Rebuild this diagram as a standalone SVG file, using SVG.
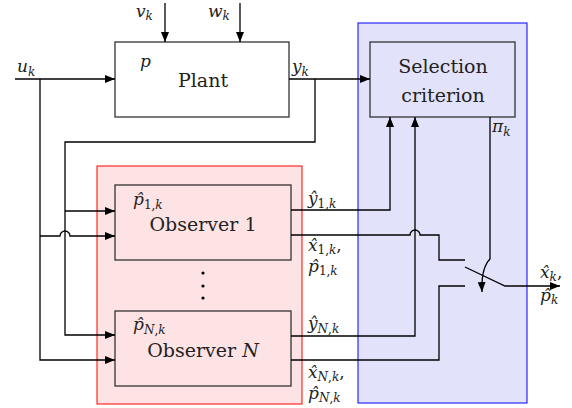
<svg xmlns="http://www.w3.org/2000/svg" width="572" height="408" viewBox="0 0 572 408">
<defs>
<marker id="arr" viewBox="0 0 10 8" refX="10" refY="4" markerWidth="10" markerHeight="8" markerUnits="userSpaceOnUse" orient="auto">
<path d="M0,0 L10,4 L0,8 Z" fill="#000"/>
</marker>
<style>
.box{fill:none;stroke:#333;stroke-width:1.3}
.ln{fill:none;stroke:#000;stroke-width:1.3}
text{font-family:"DejaVu Serif","Liberation Serif",serif;fill:#222}
.lbl{font-size:19px}
.m{font-style:italic;font-size:17px}
.s{font-size:12px}
.up{font-style:normal}
</style>
</defs>
<rect width="572" height="408" fill="#fff"/>
<g id="observer-bank">
<rect x="97" y="166" width="205" height="238" fill="#fde3e3" stroke="#f00" stroke-width="1"/>
<circle cx="203" cy="273" r="1.6" fill="#000"/>
<circle cx="203" cy="286" r="1.6" fill="#000"/>
<circle cx="203" cy="298" r="1.6" fill="#000"/>
</g>
<g id="selection-region">
<rect x="358" y="23" width="169" height="380" fill="#e2e2fb" stroke="#00f" stroke-width="1"/>
</g>
<g id="plant">
<rect class="box" x="115" y="42" width="174" height="75" fill="#fff"/>
<text class="m" x="140" y="67">p</text>
<text class="lbl" x="203" y="87" text-anchor="middle">Plant</text>
</g>
<g id="selection">
<rect class="box" x="370" y="42" width="145" height="75"/>
<text class="lbl" x="443" y="73" text-anchor="middle">Selection</text>
<text class="lbl" x="443" y="102" text-anchor="middle">criterion</text>
</g>
<g id="observer1">
<rect class="box" x="115" y="185" width="176" height="75"/>
<text class="m" x="133" y="205">p̂<tspan class="s up" dy="4">1,</tspan><tspan class="s">k</tspan></text>
<text class="lbl" x="203" y="231" text-anchor="middle">Observer 1</text>
</g>
<g id="observerN">
<rect class="box" x="115" y="311" width="176" height="75"/>
<text class="m" x="133" y="330">p̂<tspan class="s" dy="4">N</tspan><tspan class="s up">,</tspan><tspan class="s">k</tspan></text>
<text class="lbl" x="203" y="357" text-anchor="middle">Observer <tspan font-style="italic">N</tspan></text>
</g>
<g id="connectors">
<path class="ln" d="M165,3 V42" marker-end="url(#arr)"/>
<path class="ln" d="M240,3 V42" marker-end="url(#arr)"/>
<path class="ln" d="M15,79 H115" marker-end="url(#arr)"/>
<path class="ln" d="M40,79 V360 H115" marker-end="url(#arr)"/>
<path class="ln" d="M40,236 H60 A5,5 0 0 1 70,236 H115" marker-end="url(#arr)"/>
<path class="ln" d="M289,79 H370" marker-end="url(#arr)"/>
<path class="ln" d="M315,79 V142 H65 V335 H115" marker-end="url(#arr)"/>
<path class="ln" d="M65,211 H115" marker-end="url(#arr)"/>
<path class="ln" d="M291,210 H390 V117" marker-end="url(#arr)"/>
<path class="ln" d="M291,235 H410 A5,5 0 0 1 420,235 H439 V260 H465"/>
<path class="ln" d="M291,336 H415 V117" marker-end="url(#arr)"/>
<path class="ln" d="M291,360 H439 V286 H465"/>
<path class="ln" d="M490,117 V259 Q481,268 482,292" marker-end="url(#arr)"/>
</g>
<g id="switch">
<path class="ln" d="M465,267 L505,286 H560" marker-end="url(#arr)"/>
</g>
<g id="labels">
<text class="m" x="17" y="72">u<tspan class="s" dy="4">k</tspan></text>
<text class="m" x="136" y="17">v<tspan class="s" dy="3">k</tspan></text>
<text class="m" x="208" y="17">w<tspan class="s" dy="3">k</tspan></text>
<text class="m" x="292" y="72">y<tspan class="s" dy="4">k</tspan></text>
<text class="m" x="492" y="132">π<tspan class="s" dy="4">k</tspan></text>
<text class="m" x="308" y="204">ŷ<tspan class="s up" dy="4">1,</tspan><tspan class="s">k</tspan></text>
<text class="m" x="308" y="251">x̂<tspan class="s up" dy="3">1,</tspan><tspan class="s">k</tspan><tspan class="up" dy="-3">,</tspan></text>
<text class="m" x="308" y="272">p̂<tspan class="s up" dy="3">1,</tspan><tspan class="s">k</tspan></text>
<text class="m" x="308" y="329">ŷ<tspan class="s" dy="4">N</tspan><tspan class="s up">,</tspan><tspan class="s">k</tspan></text>
<text class="m" x="308" y="378">x̂<tspan class="s" dy="3">N</tspan><tspan class="s up">,</tspan><tspan class="s">k</tspan><tspan class="up" dy="-3">,</tspan></text>
<text class="m" x="308" y="399">p̂<tspan class="s" dy="3">N</tspan><tspan class="s up">,</tspan><tspan class="s">k</tspan></text>
<text class="m" x="540" y="278">x̂<tspan class="s" dy="3">k</tspan><tspan class="up" dy="-3">,</tspan></text>
<text class="m" x="540" y="301">p̂<tspan class="s" dy="3">k</tspan></text>
</g>
</svg>
